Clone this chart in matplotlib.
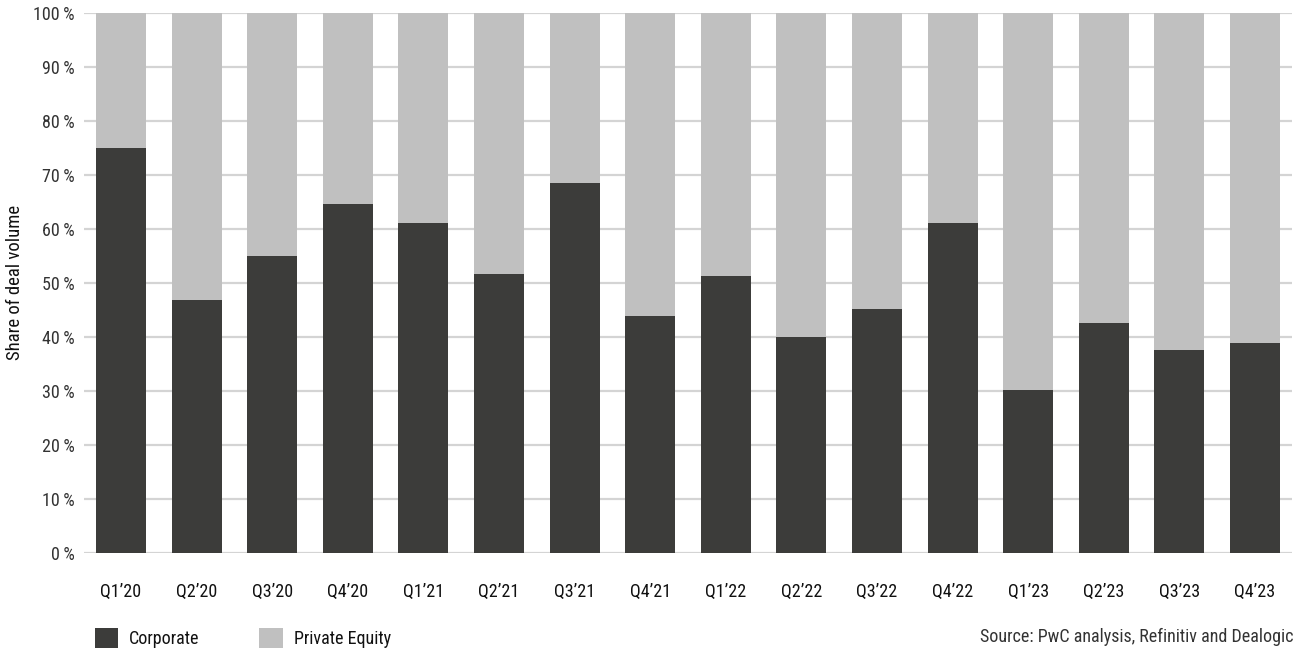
import matplotlib
matplotlib.use("Agg")
import matplotlib.pyplot as plt
from matplotlib.patches import Patch
import numpy as np

plt.rcParams['font.family'] = ['Roboto Condensed', 'Archivo Narrow', 'DejaVu Sans']

quarters = ["Q1\u201920", "Q2\u201920", "Q3\u201920", "Q4\u201920",
            "Q1\u201921", "Q2\u201921", "Q3\u201921", "Q4\u201921",
            "Q1\u201922", "Q2\u201922", "Q3\u201922", "Q4\u201922",
            "Q1\u201923", "Q2\u201923", "Q3\u201923", "Q4\u201923"]
corporate = [75.0, 46.8, 55.0, 64.6, 61.1, 51.6, 68.5, 43.8,
             51.3, 40.0, 45.2, 61.0, 30.1, 42.5, 37.5, 38.8]
private_equity = [100 - c for c in corporate]
y_ticks = [0, 10, 20, 30, 40, 50, 60, 70, 80, 90, 100]
y_ticklabels = [f"{t}\u2009%" for t in y_ticks]

dark = "#3c3c3a"
light = "#c0c0c0"
grid_c = "#d4d4d4"
text_c = "#333333"
fs = 13

fig = plt.figure(figsize=(12.98, 6.51), dpi=100)
ax = fig.add_axes([84 / 1298, 1 - 552.5 / 651, 1208 / 1298, 539.5 / 651])

x = np.arange(len(quarters))
ax.bar(x, corporate, width=0.66, color=dark, zorder=2, label="Corporate")
ax.bar(x, private_equity, bottom=corporate, width=0.66, color=light, zorder=2,
       label="Private Equity")

ax.set_xlim(-0.49, len(quarters) - 0.51)
ax.set_ylim(0, 100)
ax.set_yticks(y_ticks)
ax.set_yticklabels(y_ticklabels)
ax.set_xticks(x)
ax.set_xticklabels(quarters)
ax.yaxis.grid(True, color=grid_c, linewidth=1.6, zorder=0)
ax.set_axisbelow(True)
for s in ax.spines.values():
    s.set_visible(False)
ax.tick_params(axis='y', length=0, pad=7, labelsize=fs, labelcolor=text_c)
ax.tick_params(axis='x', length=0, pad=22, labelsize=fs, labelcolor="#111111")
ax.set_ylabel("Share of deal volume", fontsize=13.5, color="#111111", labelpad=6)

handles = [Patch(facecolor=dark, edgecolor='none'),
           Patch(facecolor=light, edgecolor='none')]
fig.legend(handles, ["Corporate", "Private Equity"], loc="center left",
           bbox_to_anchor=(95 / 1298, 1 - 638 / 651), ncol=2, frameon=False,
           fontsize=fs, handlelength=1.3, handleheight=1.3, borderpad=0,
           borderaxespad=0, handletextpad=0.6, columnspacing=3.3,
           labelcolor="#111111")

fig.text(1293 / 1298, 1 - 637 / 651, "Source: PwC analysis, Refinitiv and Dealogic",
         ha="right", va="center", fontsize=fs, color=text_c)

fig.savefig("out.png", dpi=100)
